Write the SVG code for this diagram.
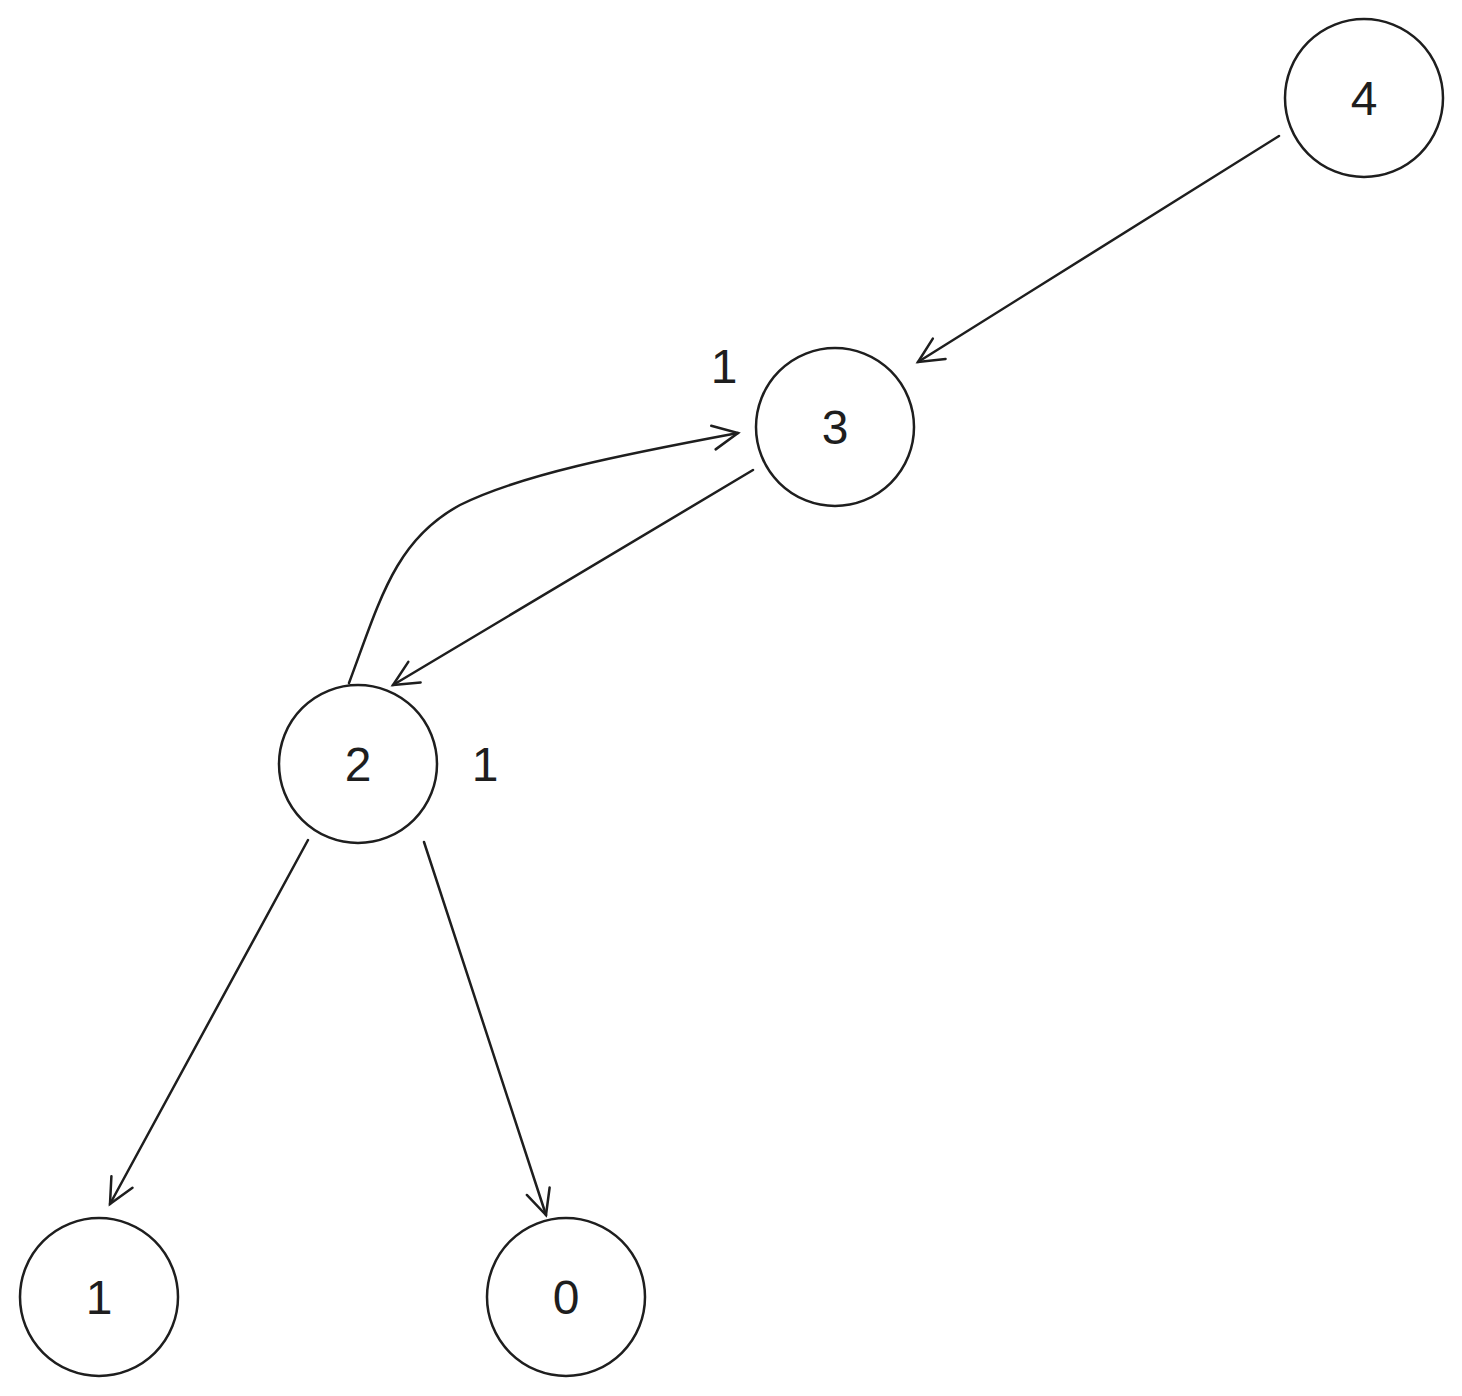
<svg xmlns="http://www.w3.org/2000/svg" width="1462" height="1396" viewBox="0 0 1462 1396">
<style>
.n{fill:none;stroke:#1e1e1e;stroke-width:2.5}
.t{font-family:"Comic Sans MS","Liberation Sans",sans-serif;font-size:48px;fill:#1e1e1e;text-anchor:middle;dominant-baseline:central}
.e{fill:none;stroke:#1e1e1e;stroke-width:2.5;stroke-linecap:round;marker-end:url(#a)}
</style>
<defs><marker id="a" markerWidth="30" markerHeight="30" refX="27" refY="15" orient="auto" markerUnits="userSpaceOnUse"><path d="M2,3 L27,15 L2,27" fill="none" stroke="#1e1e1e" stroke-width="2.5" stroke-linecap="round"/></marker></defs>
<rect width="1462" height="1396" fill="#fff"/>
<g id="n4"><circle class="n" cx="1364" cy="98" r="79"/><text class="t" x="1364" y="98">4</text></g>
<g id="n3"><circle class="n" cx="835" cy="427" r="79"/><text class="t" x="835" y="427">3</text></g>
<g id="n2"><circle class="n" cx="358" cy="764" r="79"/><text class="t" x="358" y="764">2</text></g>
<g id="n1"><circle class="n" cx="99" cy="1297" r="79"/><text class="t" x="99" y="1297">1</text></g>
<g id="n0"><circle class="n" cx="566" cy="1297" r="79"/><text class="t" x="566" y="1297">0</text></g>
<g id="labels"><text class="t" x="724" y="366">1</text><text class="t" x="485" y="764">1</text></g>
<g id="edges">
<path class="e" d="M1279,136 L918,362"/>
<path class="e" d="M753,470 L393,685"/>
<path class="e" d="M349,683 C380,600 395,540 460,505 C520,475 620,455 738,433"/>
<path class="e" d="M308,840 L110,1204"/>
<path class="e" d="M424,842 L546,1215"/>
</g>
</svg>
